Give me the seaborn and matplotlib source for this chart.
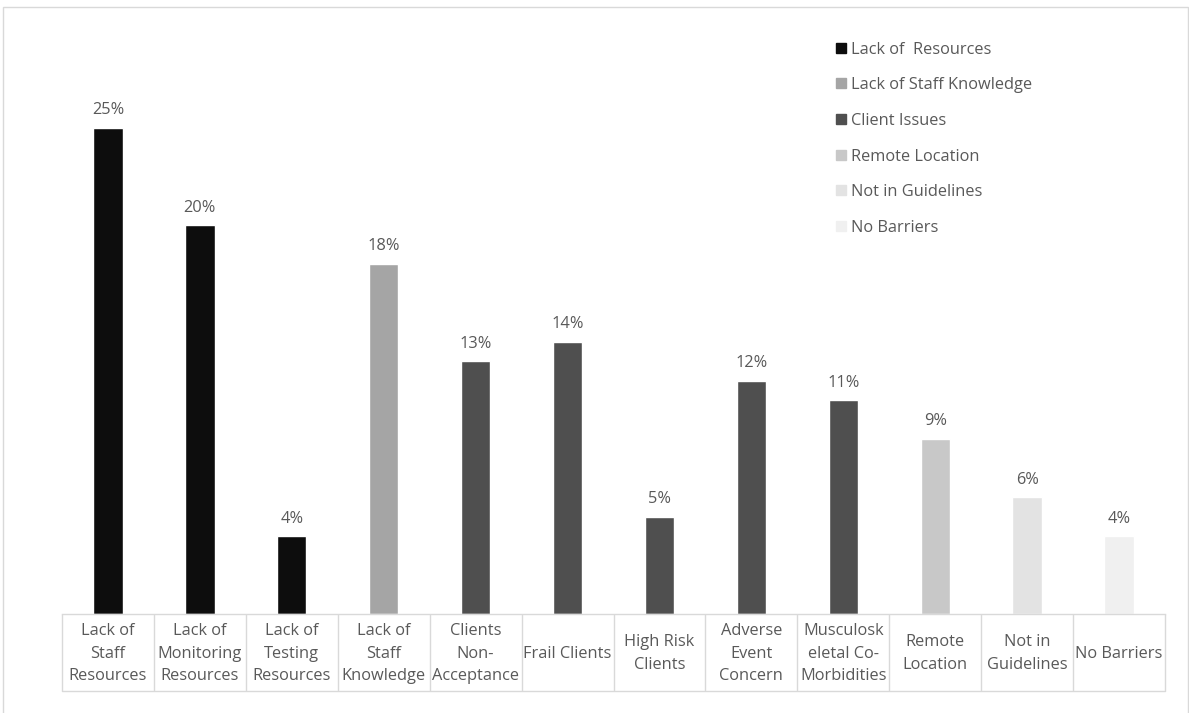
import matplotlib
matplotlib.use("Agg")
import matplotlib.pyplot as plt
import seaborn as sns
import pandas as pd
from matplotlib.lines import Line2D
from matplotlib.patches import Rectangle

categories = [
    "Lack of\nStaff\nResources",
    "Lack of\nMonitoring\nResources",
    "Lack of\nTesting\nResources",
    "Lack of\nStaff\nKnowledge",
    "Clients\nNon-\nAcceptance",
    "Frail Clients",
    "High Risk\nClients",
    "Adverse\nEvent\nConcern",
    "Musculosk\neletal Co-\nMorbidities",
    "Remote\nLocation",
    "Not in\nGuidelines",
    "No Barriers",
]
values = [25, 20, 4, 18, 13, 14, 5, 12, 11, 9, 6, 4]
groups = [
    "Lack of  Resources", "Lack of  Resources", "Lack of  Resources",
    "Lack of Staff Knowledge",
    "Client Issues", "Client Issues", "Client Issues", "Client Issues", "Client Issues",
    "Remote Location", "Not in Guidelines", "No Barriers",
]
group_order = ["Lack of  Resources", "Lack of Staff Knowledge", "Client Issues",
               "Remote Location", "Not in Guidelines", "No Barriers"]
group_colors = ["#0d0d0d", "#a5a5a5", "#4f4f4f", "#c8c8c8", "#e3e3e3", "#f0f0f0"]

sns.set_style("white")
plt.rcParams["font.family"] = ["Open Sans", "DejaVu Sans"]
text_color = "#595959"
grid_color = "#d9d9d9"
fs = 11.8

df = pd.DataFrame({"category": categories, "value": values, "group": groups})
palette = dict(zip(group_order, group_colors))

fig = plt.figure(figsize=(11.89, 7.13), dpi=100)
W, H = 1189, 713
ax = fig.add_axes([62 / W, (H - 614) / H, (1165 - 62) / W, (614 - 31) / H])

sns.barplot(data=df, x="category", y="value", hue="group", hue_order=group_order,
            palette=palette, dodge=False, width=0.32, legend=False, ax=ax,
            saturation=1)

ax.set_ylim(0, 30)
ax.set_xlim(-0.5, len(categories) - 0.5)
ax.set_xlabel("")
ax.set_ylabel("")
ax.set_yticks([])

for c in ax.containers:
    labels = [f"{v:.0f}%" if v > 0 else "" for v in c.datavalues]
    ax.bar_label(c, labels=labels, padding=7, fontsize=fs, color=text_color)

for s in ["top", "right", "left"]:
    ax.spines[s].set_visible(False)
ax.spines["bottom"].set_color(grid_color)
ax.spines["bottom"].set_linewidth(1)

# category table lines
table_h_px = 77
table_h_pt = table_h_px * 72 / 100
ax.set_xticks(range(len(categories)))
ax.set_xticklabels(categories, linespacing=1.55)
ax.set_xticks([i - 0.5 for i in range(len(categories) + 1)], minor=True)
ax.tick_params(axis="x", which="minor", bottom=True, length=table_h_pt, width=1,
               color=grid_color, direction="out")
ax.tick_params(axis="x", which="major", bottom=True, length=0, pad=28.5, labelsize=fs,
               labelcolor=text_color)
for t in ax.get_xticklabels():
    t.set_va("center")
ax.add_line(Line2D([0, 1], [-table_h_px / 583, -table_h_px / 583], transform=ax.transAxes,
                   color=grid_color, lw=1, clip_on=False))

# legend
handles = [Line2D([], [], marker="s", linestyle="none", markersize=6.5,
                  markerfacecolor=col, markeredgecolor=col) for col in group_colors]
leg = fig.legend(handles, group_order, loc="upper left", bbox_to_anchor=(830 / W, 1 - 35 / H),
                 frameon=False, fontsize=fs, labelcolor=text_color, handlelength=0.6,
                 handletextpad=0.3, labelspacing=1.2, borderaxespad=0)

# outer frame
fig.patches.append(Rectangle((3 / W, -0.01), (1188 - 3) / W, (H - 7) / H + 0.01,
                             transform=fig.transFigure, fill=False,
                             edgecolor=grid_color, lw=1))

fig.savefig("out.png", dpi=100)
